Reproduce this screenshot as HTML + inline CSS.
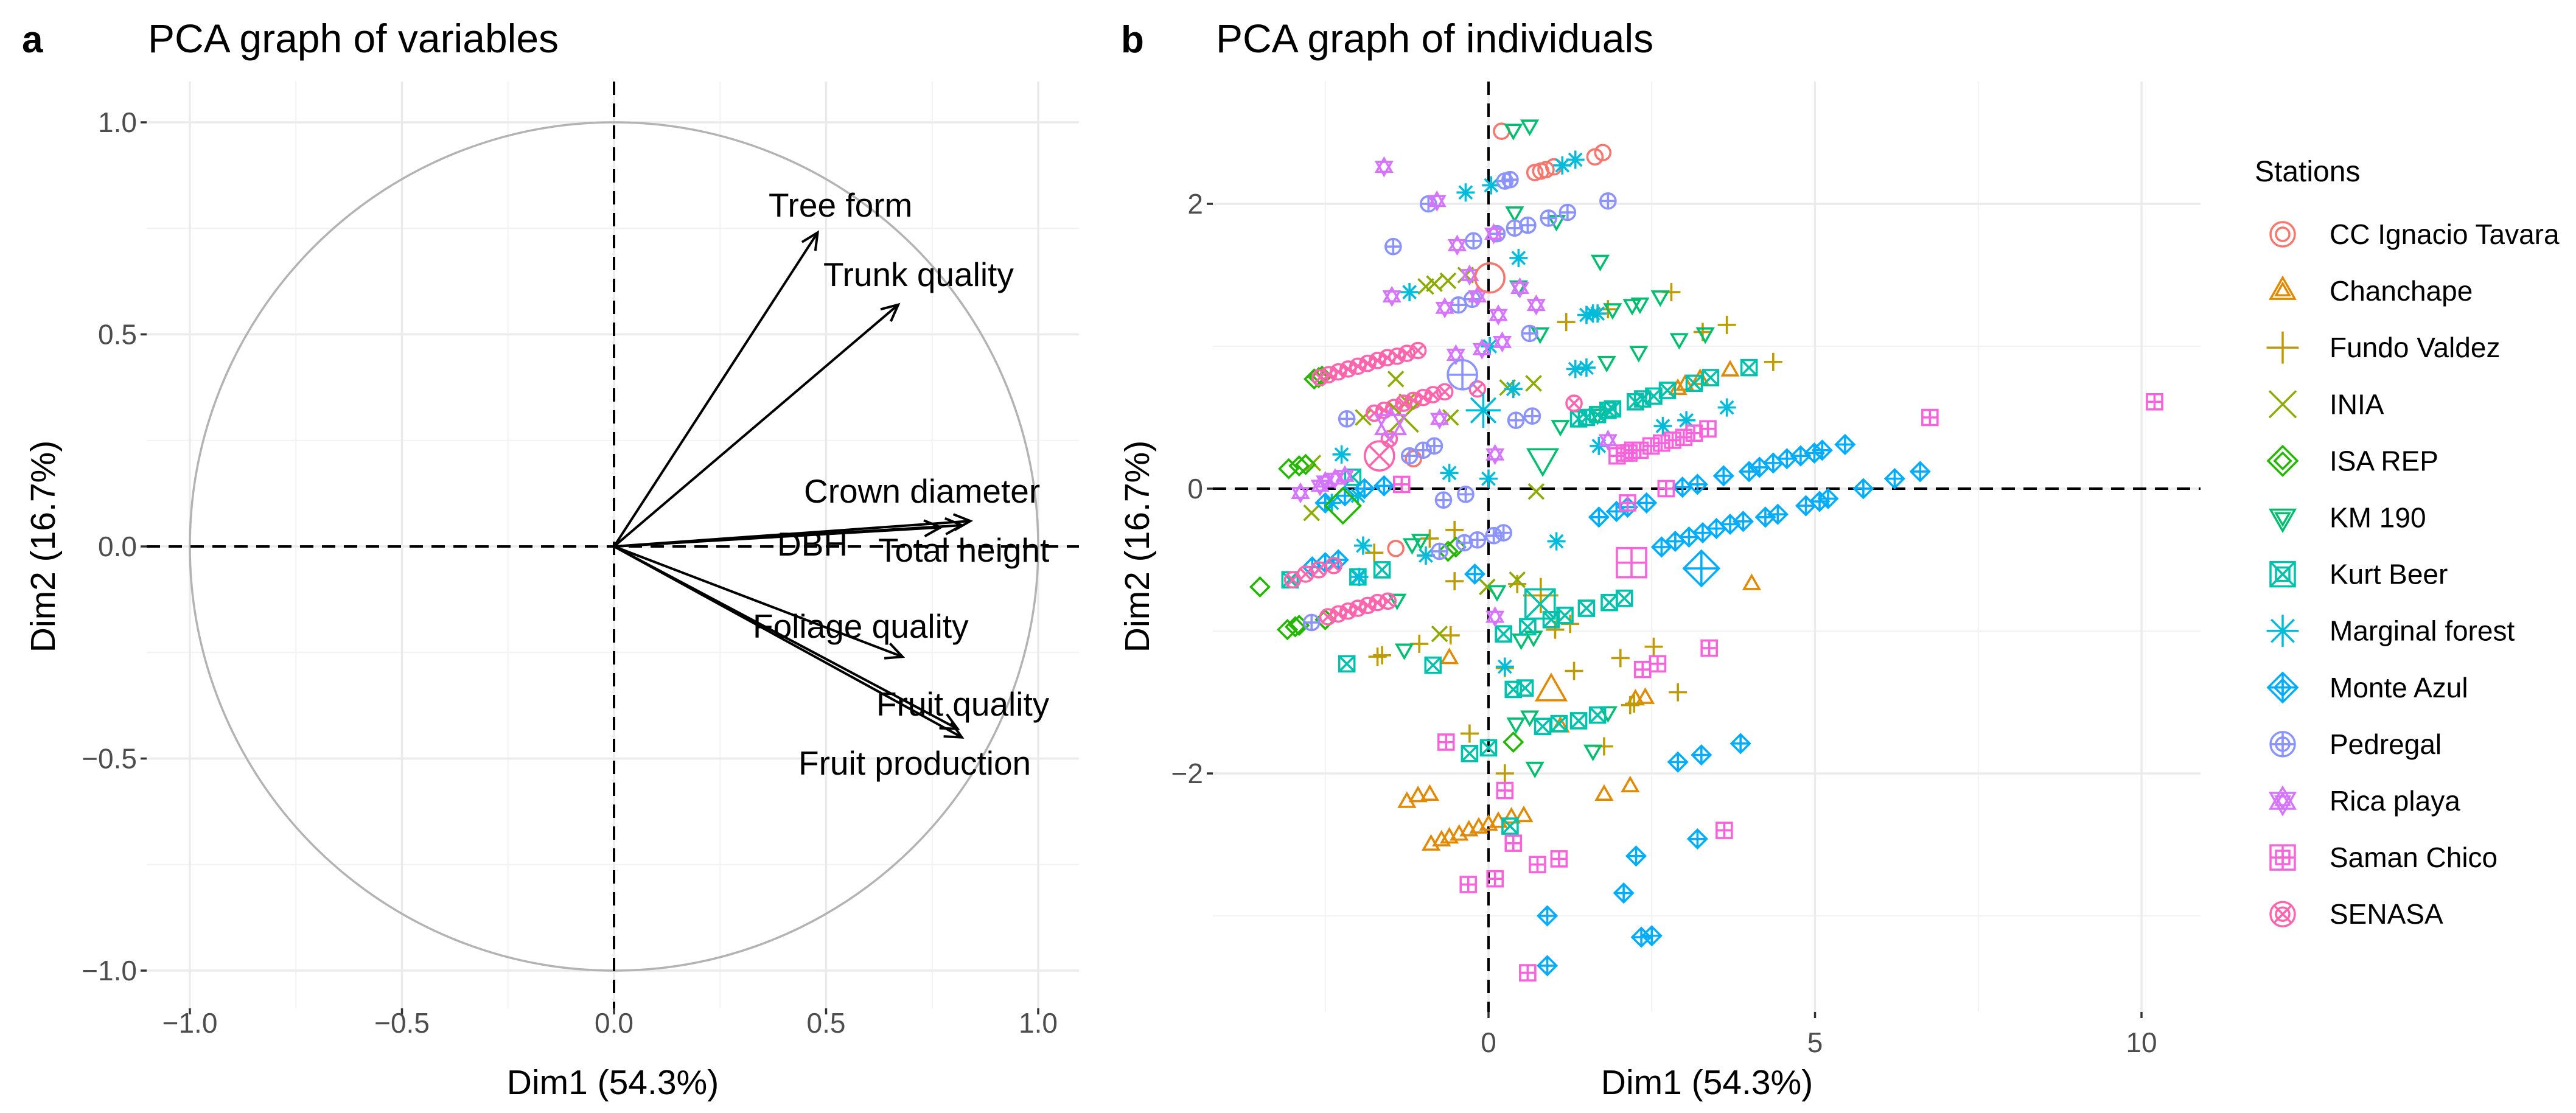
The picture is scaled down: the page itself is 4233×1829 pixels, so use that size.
<!DOCTYPE html>
<html><head><meta charset="utf-8"><style>
html,body{margin:0;padding:0;background:#fff}
svg{display:block}
text{font-family:"Liberation Sans",Arial,sans-serif}
</style></head><body>
<svg id="fig" width="4233" height="1829" viewBox="0 0 4233 1829" xmlns="http://www.w3.org/2000/svg">
<rect width="4233" height="1829" fill="#fff"/>
<text x="36" y="86" font-size="62" font-weight="bold">a</text>
<text x="243" y="86" font-size="66">PCA graph of variables</text>
<text x="1842" y="86" font-size="62" font-weight="bold">b</text>
<text x="1998" y="86" font-size="66">PCA graph of individuals</text>
<g id="pa"></g>
<g id="pb"></g>
<g id="lg"></g>
</svg>
<script>
// ---------- Panel a data ----------
const varNames=["Tree form","Trunk quality","Crown diameter","DBH","Total height","Foliage quality","Fruit quality","Fruit production"];
const varX=[0.48,0.67,0.84,0.77,0.82,0.68,0.81,0.82];
const varY=[0.74,0.57,0.06,0.045,0.05,-0.26,-0.43,-0.45];
const labelX=[1263,1353,1321,1277,1443,1237,1440,1312];
const labelY=[356,470,826,913,923,1048,1176,1273];
const aTicks=[-1,-0.5,0,0.5,1];
const aTickLabels=["\u22121.0","\u22120.5","0.0","0.5","1.0"];
const aMinor=[-0.75,-0.25,0.25,0.75];

// ---------- Panel b data ----------
const stationNames=["CC Ignacio Tavara","Chanchape","Fundo Valdez","INIA","ISA REP","KM 190","Kurt Beer","Marginal forest","Monte Azul","Pedregal","Rica playa","Saman Chico","SENASA"];
const stationColors=["#F8766D","#E18A00","#BE9C00","#8CAB00","#24B700","#00BE70","#00C1AB","#00BBDA","#00ACFC","#8B93FF","#D575FE","#F962DD","#FF65AC"];
const stationShapes=["circle","triUp","plus","x","diamond","triDown","sqx","ast","diaplus","circplus","star","sqplus","circx"];
const ptsCC=[[0.2,2.51],[0.71,2.22],[0.8,2.23],[0.88,2.24],[1.63,2.33],[1.75,2.36],[-1.15,0.21],[-1.42,-0.42],[1.0,2.26]];
const ptsChanchape=[[3.01,0.73],[3.24,0.77],[3.7,0.83],[2.9,0.7],[-0.6,-1.19],[1.1,-1.67],[1.77,-2.15],[2.17,-2.09],[-1.25,-2.2],[-1.08,-2.16],[-0.9,-2.15],[-0.88,-2.5],[-0.72,-2.47],[-0.6,-2.45],[-0.45,-2.43],[-0.3,-2.4],[-0.15,-2.38],[0.0,-2.36],[0.15,-2.34],[0.35,-2.31],[0.54,-2.3],[4.03,-0.67],[2.25,-1.48],[2.4,-1.47]];
const ptsFundo=[[1.19,1.17],[1.83,1.26],[2.8,1.38],[3.28,1.1],[3.65,1.15],[4.36,0.89],[-0.52,-0.29],[-0.9,-0.35],[-1.75,-0.45],[-0.52,-0.65],[0.44,-0.67],[-1.63,-1.17],[-1.7,-1.18],[-1.06,-1.09],[-0.58,-1.03],[1.02,-0.99],[1.25,-0.95],[0.25,-1.26],[1.31,-1.28],[2.02,-1.19],[2.23,-1.51],[-0.29,-1.72],[1.77,-1.81],[0.25,-2.0],[2.53,-1.11],[2.9,-1.43],[2.17,-1.52]];
const ptsINIA=[[-0.96,1.42],[-0.83,1.44],[-0.62,1.46],[-0.35,1.5],[-1.42,0.77],[-1.25,0.61],[-0.58,0.5],[0.29,0.71],[0.69,0.74],[-1.92,0.5],[-2.69,0.18],[0.73,-0.02],[-0.02,-0.69],[0.44,-0.64],[-0.75,-1.02],[-2.71,-0.17]];
const ptsISA=[[-2.67,0.77],[-2.6,0.78],[-2.55,0.79],[-3.06,0.14],[-2.9,0.16],[-2.8,0.17],[-3.5,-0.69],[-3.08,-0.99],[-2.96,-0.97],[-2.9,-0.96],[-2.5,-0.92],[-0.62,-0.44],[-0.5,-0.41],[0.38,-1.78]];
const ptsKM=[[0.38,2.52],[0.63,2.55],[0.4,1.94],[1.04,1.88],[1.71,1.6],[0.46,1.42],[0.79,1.09],[1.81,0.89],[1.1,0.44],[1.67,0.52],[1.9,1.26],[2.2,1.29],[2.32,1.3],[2.63,1.35],[2.92,1.05],[3.32,1.09],[2.3,0.96],[-1.17,-0.39],[-1.04,-0.36],[-1.4,-0.78],[-1.29,-1.13],[0.13,-0.72],[0.5,-1.06],[0.69,-1.04],[0.42,-1.65],[0.63,-1.6],[1.83,-1.57],[1.6,-1.84],[0.71,-1.96]];
const ptsKurt=[[-2.08,0.08],[1.38,0.49],[1.5,0.5],[1.67,0.52],[1.83,0.55],[2.25,0.61],[2.36,0.63],[2.53,0.65],[2.74,0.69],[3.15,0.74],[3.4,0.78],[3.99,0.85],[1.9,0.56],[-3.04,-0.64],[-2.0,-0.62],[-1.63,-0.57],[-2.17,-1.23],[-0.85,-1.24],[-0.29,-1.86],[0.0,-1.82],[0.23,-1.02],[0.6,-0.97],[0.96,-0.92],[1.17,-0.89],[1.5,-0.84],[1.85,-0.8],[2.08,-0.77],[0.38,-1.41],[0.56,-1.4],[0.83,-1.67],[1.08,-1.65],[1.38,-1.63],[1.67,-1.59],[0.33,-2.37]];
const ptsMarginal=[[-0.35,2.08],[0.04,2.13],[1.13,2.27],[1.33,2.31],[0.46,1.62],[-1.21,1.38],[0.02,1.0],[1.5,1.22],[1.6,1.23],[1.67,1.23],[1.33,0.84],[1.5,0.85],[0.38,0.7],[-2.25,0.24],[-0.6,0.11],[0.0,0.07],[1.69,0.3],[2.67,0.44],[3.03,0.48],[3.65,0.57],[-1.92,-0.4],[-0.96,-0.47],[-1.98,-0.62],[1.04,-0.37],[0.25,-1.25],[-2.4,-0.1],[-2.0,-0.05]];
const ptsMonte=[[2.97,0.01],[3.2,0.03],[3.6,0.09],[3.99,0.12],[4.15,0.15],[4.36,0.18],[4.57,0.21],[4.78,0.23],[4.99,0.25],[5.11,0.27],[5.46,0.31],[5.74,0.0],[6.22,0.07],[6.61,0.12],[-0.21,-0.6],[1.69,-0.2],[1.96,-0.16],[2.13,-0.13],[2.42,-0.1],[2.65,-0.41],[2.86,-0.37],[3.07,-0.34],[3.28,-0.31],[3.49,-0.28],[3.7,-0.25],[3.9,-0.23],[4.24,-0.2],[4.43,-0.18],[4.86,-0.12],[5.07,-0.09],[5.2,-0.07],[2.9,-1.92],[3.26,-1.87],[3.86,-1.79],[3.2,-2.46],[2.26,-2.58],[2.07,-2.84],[0.9,-3.0],[0.9,-3.35],[2.34,-3.15],[2.5,-3.14],[-2.5,-0.1],[-2.2,-0.05],[-1.9,0.0],[-1.6,0.02],[-2.7,-0.55],[-2.5,-0.52],[-2.3,-0.5]];
const ptsPedregal=[[-0.92,2.0],[0.25,2.16],[0.33,2.17],[1.83,2.02],[0.92,1.9],[1.21,1.94],[0.4,1.83],[0.6,1.85],[0.13,1.79],[-0.23,1.74],[-1.46,1.7],[-0.46,1.29],[-0.25,1.33],[0.63,1.09],[0.42,0.48],[0.67,0.51],[-2.17,0.49],[-1.21,0.23],[-1.0,0.27],[-0.83,0.3],[-0.69,-0.08],[-0.35,-0.04],[-0.37,-0.38],[-0.17,-0.36],[0.08,-0.33],[0.23,-0.31],[-2.71,-0.94],[-0.75,-0.44]];
const ptsRica=[[-1.6,2.26],[-0.79,2.02],[-0.48,1.71],[-0.29,1.5],[-1.48,1.35],[-0.67,1.27],[-0.17,1.35],[0.15,1.22],[0.73,1.29],[0.48,1.41],[0.08,1.79],[-0.5,0.94],[-0.1,0.98],[0.21,1.03],[-0.75,0.49],[0.1,0.24],[-2.88,-0.03],[-2.58,0.02],[1.83,0.34],[0.1,-0.9],[-2.5,0.05],[-2.35,0.07],[-2.2,0.09]];
const ptsSaman=[[1.97,0.23],[2.08,0.25],[2.15,0.25],[2.21,0.27],[2.32,0.27],[2.49,0.3],[2.65,0.32],[2.82,0.34],[2.99,0.36],[3.15,0.39],[3.36,0.42],[6.76,0.5],[2.72,0.0],[2.13,-0.1],[-0.65,-1.78],[0.25,-2.12],[0.38,-2.49],[0.75,-2.64],[1.08,-2.6],[-0.31,-2.78],[0.1,-2.74],[0.6,-3.4],[3.38,-1.12],[2.36,-1.27],[2.59,-1.23],[3.61,-2.4],[10.2,0.61],[-1.33,0.03]];
const ptsSenasa=[[-2.58,0.78],[-2.45,0.8],[-2.3,0.82],[-2.15,0.84],[-2.0,0.86],[-1.85,0.88],[-1.7,0.9],[-1.55,0.92],[-1.4,0.93],[-1.25,0.95],[-1.08,0.97],[-1.75,0.53],[-1.6,0.55],[-1.45,0.57],[-1.3,0.6],[-1.15,0.62],[-1.0,0.64],[-0.85,0.66],[-0.67,0.68],[-1.52,0.35],[1.31,0.6],[-2.46,-0.9],[-2.3,-0.88],[-2.15,-0.86],[-2.0,-0.84],[-1.85,-0.82],[-1.7,-0.8],[-1.54,-0.79],[-3.0,-0.64],[-2.8,-0.6],[-2.6,-0.57],[-2.37,-0.54],[-0.17,0.7]];
const stationPoints=[ptsCC,ptsChanchape,ptsFundo,ptsINIA,ptsISA,ptsKM,ptsKurt,ptsMarginal,ptsMonte,ptsPedregal,ptsRica,ptsSaman,ptsSenasa];
const centroidX=[0.02,0.96,0.8,-1.3,-2.23,0.83,0.79,-0.08,3.26,-0.4,-1.5,2.19,-1.67];
const centroidY=[1.48,-1.42,-0.75,0.5,-0.12,0.21,-0.81,0.55,-0.56,0.8,0.45,-0.52,0.23];
const bTicksX=[0,5,10];
const bTicksY=[-2,0,2];
const bMinorX=[-2.5,2.5,7.5];
const bMinorY=[-3,-1,1];

const NS="http://www.w3.org/2000/svg";
function el(tag,attrs,parent){const e=document.createElementNS(NS,tag);for(const k in attrs)e.setAttribute(k,attrs[k]);parent.appendChild(e);return e;}

// ---------- Panel a ----------
const A={l:241,r:1773,t:134,b:1657,x0:1009,y0:898,u:697};
const ax=v=>A.x0+v*A.u, ay=v=>A.y0-v*A.u;
const pa=document.getElementById('pa');
aMinor.forEach(v=>{
  let g=el('line',{x1:ax(v),x2:ax(v),y1:A.t,y2:A.b,stroke:'#F2F2F2','stroke-width':2},pa);
  
  
  let h=el('line',{x1:A.l,x2:A.r,y1:ay(v),y2:ay(v),stroke:'#F2F2F2','stroke-width':2},pa);
  
  
});
aTicks.forEach((v,i)=>{
  let g=el('line',{x1:ax(v),x2:ax(v),y1:A.t,y2:A.b,stroke:'#EBEBEB','stroke-width':3.5},pa);
  
  
  let h=el('line',{x1:A.l,x2:A.r,y1:ay(v),y2:ay(v),stroke:'#EBEBEB','stroke-width':3.5},pa);
  
  
  let tk=el('line',{x1:ax(v),x2:ax(v),y1:A.b,y2:A.b+10,stroke:'#333','stroke-width':3.5},pa);
  
  
  let tl=el('text',{x:ax(v),y:1697,'font-size':46,fill:'#4D4D4D','text-anchor':'middle'},pa);
  tl.textContent=aTickLabels[i];
  
  
  let ty=el('line',{x1:A.l-10,x2:A.l,y1:ay(v),y2:ay(v),stroke:'#333','stroke-width':3.5},pa);
  
  
  let yl=el('text',{x:A.l-16,y:ay(v)+16,'font-size':46,fill:'#4D4D4D','text-anchor':'end'},pa);
  yl.textContent=aTickLabels[i];
  
  
});
let circ=el('circle',{cx:ax(0),cy:ay(0),r:A.u,fill:'none',stroke:'#B3B3B3','stroke-width':3.5},pa);


let hz=el('line',{x1:A.l,x2:A.r,y1:ay(0),y2:ay(0),stroke:'#000','stroke-width':4,'stroke-dasharray':'22,14'},pa);


let vz=el('line',{x1:ax(0),x2:ax(0),y1:A.t,y2:A.b,stroke:'#000','stroke-width':4,'stroke-dasharray':'22,14'},pa);


varNames.forEach((n,i)=>{
  const x2=ax(varX[i]),y2=ay(varY[i]),x1=ax(0),y1=ay(0);
  const ang=Math.atan2(y2-y1,x2-x1),L=30,w=0.45;
  let ln=el('line',{x1:x1,y1:y1,x2:x2,y2:y2,stroke:'#000','stroke-width':4},pa);
  
  
  let hd=el('polyline',{points:`${x2-L*Math.cos(ang-w)},${y2-L*Math.sin(ang-w)} ${x2},${y2} ${x2-L*Math.cos(ang+w)},${y2-L*Math.sin(ang+w)}`,fill:'none',stroke:'#000','stroke-width':4},pa);
  
  
  let t=el('text',{x:labelX[i],y:labelY[i],'font-size':55,fill:'#000'},pa);
  t.textContent=n;
  
  
});
let axt=el('text',{x:1007,y:1798,'font-size':57,'text-anchor':'middle'},pa);
axt.textContent='Dim1 (54.3%)';


let ayt=el('text',{x:0,y:0,'font-size':57,'text-anchor':'middle',transform:'translate(90,898) rotate(-90)'},pa);
ayt.textContent='Dim2 (16.7%)';



// ---------- Panel b ----------
const B={l:1993,r:3616,t:134,b:1663,x0:2446,y0:803,ux:107.3,uy:234};
const bx=v=>B.x0+v*B.ux, by=v=>B.y0-v*B.uy;
const pb=document.getElementById('pb');
bMinorX.forEach(v=>{
  let g=el('line',{x1:bx(v),x2:bx(v),y1:B.t,y2:B.b,stroke:'#F2F2F2','stroke-width':2},pb);
  
  
});
bMinorY.forEach(v=>{
  let g=el('line',{x1:B.l,x2:B.r,y1:by(v),y2:by(v),stroke:'#F2F2F2','stroke-width':2},pb);
  
  
});
bTicksX.forEach(v=>{
  let g=el('line',{x1:bx(v),x2:bx(v),y1:B.t,y2:B.b,stroke:'#EBEBEB','stroke-width':3.5},pb);
  
  
  let tk=el('line',{x1:bx(v),x2:bx(v),y1:B.b,y2:B.b+10,stroke:'#333','stroke-width':3.5},pb);
  
  
  let tl=el('text',{x:bx(v),y:1729,'font-size':46,fill:'#4D4D4D','text-anchor':'middle'},pb);
  tl.textContent=String(v);
  
  
});
bTicksY.forEach(v=>{
  let g=el('line',{x1:B.l,x2:B.r,y1:by(v),y2:by(v),stroke:'#EBEBEB','stroke-width':3.5},pb);
  
  
  let tk=el('line',{x1:B.l-10,x2:B.l,y1:by(v),y2:by(v),stroke:'#333','stroke-width':3.5},pb);
  
  
  let tl=el('text',{x:B.l-16,y:by(v)+16,'font-size':46,fill:'#4D4D4D','text-anchor':'end'},pb);
  tl.textContent=v<0?'\u2212'+Math.abs(v):String(v);
  
  
});
let hz2=el('line',{x1:B.l,x2:B.r,y1:by(0),y2:by(0),stroke:'#000','stroke-width':4,'stroke-dasharray':'22,14'},pb);


let vz2=el('line',{x1:bx(0),x2:bx(0),y1:B.t,y2:B.b,stroke:'#000','stroke-width':4,'stroke-dasharray':'22,14'},pb);



function drawShape(parent,shape,cx,cy,s,col,sw){
  const g=el('g',{fill:'none',stroke:col,'stroke-width':sw},parent);
  const L=(x1,y1,x2,y2)=>el('line',{x1:cx+x1,y1:cy+y1,x2:cx+x2,y2:cy+y2},g);
  const P=pts=>el('polygon',{points:pts.map(p=>(cx+p[0])+','+(cy+p[1])).join(' ')},g);
  const up=[[0,-s*1.1],[-s,s*0.65],[s,s*0.65]], dn=[[0,s*1.1],[-s,-s*0.65],[s,-s*0.65]];
  const dia=[[0,-s*1.2],[s*1.2,0],[0,s*1.2],[-s*1.2,0]];
  switch(shape){
    case 'circle': el('circle',{cx:cx,cy:cy,r:s},g);break;
    case 'triUp': P(up);break;
    case 'triDown': P(dn);break;
    case 'plus': L(-s*1.2,0,s*1.2,0);L(0,-s*1.2,0,s*1.2);break;
    case 'x': L(-s,-s,s,s);L(-s,s,s,-s);break;
    case 'diamond': P(dia);break;
    case 'sqx': el('rect',{x:cx-s,y:cy-s,width:2*s,height:2*s},g);L(-s,-s,s,s);L(-s,s,s,-s);break;
    case 'ast': L(-s*1.2,0,s*1.2,0);L(0,-s*1.2,0,s*1.2);L(-s*.85,-s*.85,s*.85,s*.85);L(-s*.85,s*.85,s*.85,-s*.85);break;
    case 'diaplus': P(dia);L(-s*1.2,0,s*1.2,0);L(0,-s*1.2,0,s*1.2);break;
    case 'circplus': el('circle',{cx:cx,cy:cy,r:s},g);L(-s,0,s,0);L(0,-s,0,s);break;
    case 'star': P(up);P(dn);break;
    case 'sqplus': el('rect',{x:cx-s,y:cy-s,width:2*s,height:2*s},g);L(-s,0,s,0);L(0,-s,0,s);break;
    case 'circx': el('circle',{cx:cx,cy:cy,r:s},g);L(-s*.7,-s*.7,s*.7,s*.7);L(-s*.7,s*.7,s*.7,-s*.7);break;
  }
  return g;
}
const pointsLayer=el('g',{},pb);
stationPoints.forEach((pts,si)=>{
  pts.forEach(p=>{
    const g=drawShape(pointsLayer,stationShapes[si],bx(p[0]),by(p[1]),12.5,stationColors[si],3.6);
    
    
  });
});
stationNames.forEach((n,si)=>{
  const g=drawShape(pointsLayer,stationShapes[si],bx(centroidX[si]),by(centroidY[si]),24,stationColors[si],3.6);
  
  
});
let bxt=el('text',{x:2805,y:1798,'font-size':57,'text-anchor':'middle'},pb);
bxt.textContent='Dim1 (54.3%)';


let byt=el('text',{x:0,y:0,'font-size':57,'text-anchor':'middle',transform:'translate(1888,898) rotate(-90)'},pb);
byt.textContent='Dim2 (16.7%)';



// ---------- Legend ----------
const lg=document.getElementById('lg');
let lt=el('text',{x:3705,y:298,'font-size':48},lg);
lt.textContent='Stations';


stationNames.forEach((n,i)=>{
  const y=385+i*93.1;
  const item=el('g',{},lg);
  
  
  const open=['circle','triUp','triDown','diamond','diaplus','circplus','star','sqplus','sqx','circx'].includes(stationShapes[i]);
  drawShape(item,stationShapes[i],3751,y,open?20:22,stationColors[i],3.5);
  if(open) drawShape(item,stationShapes[i],3751,y,11,stationColors[i],3.5);
  const t=el('text',{x:3828,y:y+16,'font-size':46},item);
  t.textContent=n;
  
  
});
</script>
</body></html>
